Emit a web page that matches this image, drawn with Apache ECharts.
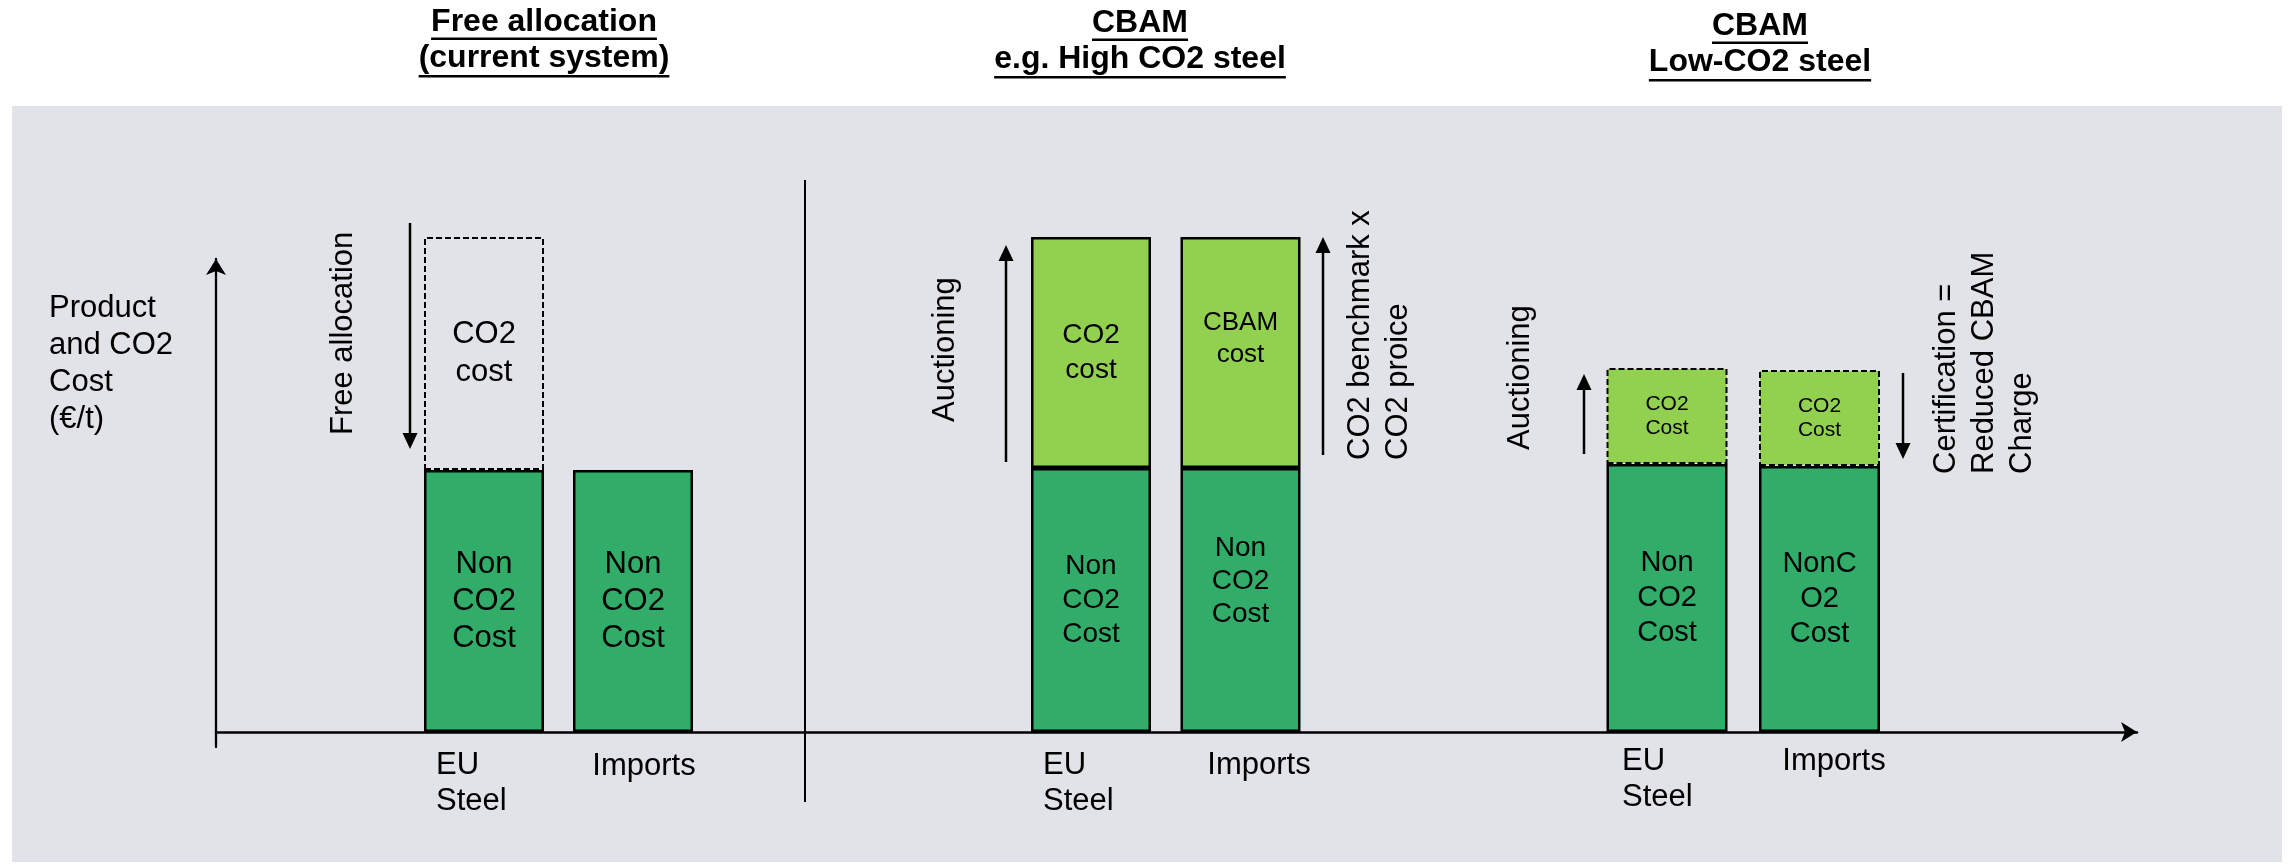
<!DOCTYPE html>
<html>
<head>
<meta charset="utf-8">
<script src="https://cdn.jsdelivr.net/npm/echarts@6/dist/echarts.min.js"></script>
<style>
  html, body { margin: 0; padding: 0; background: #ffffff; }
  #chart { width: 2288px; height: 864px; }
</style>
</head>
<body>
<div id="chart"></div>
<script>
// ---- Content -------------------------------------------------------------
const panelTitles = [
  ['Free allocation', '(current system)'],
  ['CBAM', 'e.g. High CO2 steel'],
  ['CBAM', 'Low-CO2 steel']
];
const categories = ['EU\nSteel', 'Imports'];
const yAxisTitle = 'Product\nand CO2\nCost\n(€/t)';

// Cost per tonne (arbitrary units), stacked: non-CO2 part below, CO2 part on top
const freeAllocNonCo2 = [52.4, 52.4];
const freeAllocCo2    = [46.6, null];
const highCo2NonCo2   = [52.8, 52.8];
const highCo2Co2      = [46.2, 46.2];
const lowCo2NonCo2    = [53.6, 53.2];
const lowCo2Co2       = [19.2, 19.2];

// Text written inside each stacked segment
const nonCo2Labels = [
  ['Non\nCO2\nCost', 'Non\nCO2\nCost'],
  ['Non\nCO2\nCost', 'Non\nCO2\nCost'],
  ['Non\nCO2\nCost', 'NonC\nO2\nCost']
];
const co2Labels = [
  ['CO2\ncost', null],
  ['CO2\ncost', 'CBAM\ncost'],
  ['CO2\nCost', 'CO2\nCost']
];

// Vertical arrows beside the bars: which bar, value span [from, to], caption
const arrowBars  = [[0], [0, 1], [0, 1]];
const arrowSpans = [
  [[101.8, 56.6]],
  [[54.0, 97.4], [55.4, 99.0]],
  [[55.6, 71.6], [71.8, 54.6]]
];
const arrowTexts = [
  ['Free allocation'],
  ['Auctioning', 'CO2 benchmark x\nCO2 proice'],
  ['Auctioning', 'Certification =\nReduced CBAM\nCharge']
];

// ---- Layout & style ------------------------------------------------------
const FONT = '"Liberation Sans", Arial, Helvetica, sans-serif';
const DARK = '#31ad69';
const LIGHT = '#92d050';
const PANEL_BG = '#e2e3e8';
const AXIS_Y = 732;
const GRID_TOP = 232;

const panelLayout = [
  {
    left: 409.5, width: 298, barWidth: 120, titleX: 544, titleDy: 0, labelMargin: 15,
    catPad: [[0, 21, 0, 0], [3, 0, 0, 22]],
    nonCo2Text: [{ fontSize: 31, lineHeight: 37 }, { fontSize: 31, lineHeight: 37 }],
    co2Text: [{ fontSize: 31, lineHeight: 38 }, null],
    co2Item: [{ color: 'rgba(0,0,0,0)', borderType: [6, 3], borderWidth: 2 }, null],
    arrows: [{ dx: -74, tx: -141, tdy: -14 }]
  },
  {
    left: 1016.25, width: 299, barWidth: 120, titleX: 1140, titleDy: 1, labelMargin: 15,
    catPad: [[0, 21, 0, 0], [0, 0, 0, 37]],
    nonCo2Text: [{ fontSize: 28, lineHeight: 34 }, { fontSize: 28, lineHeight: 33, offset: [0, -19] }],
    co2Text: [{ fontSize: 28, lineHeight: 35 }, { fontSize: 26, lineHeight: 32, offset: [0, -14] }],
    co2Item: [{ color: LIGHT }, { color: LIGHT }],
    arrows: [{ dx: -85, tx: -146, tdy: -40 }, { dx: 82.5, tx: 138.5, tdy: 5 }]
  },
  {
    left: 1590.75, width: 305, barWidth: 121, titleX: 1760, titleDy: 4, labelMargin: 11,
    catPad: [[0, 15, 0, 0], [0, 0, 0, 29]],
    nonCo2Text: [{ fontSize: 29, lineHeight: 35 }, { fontSize: 29, lineHeight: 35 }],
    co2Text: [{ fontSize: 21, lineHeight: 24 }, { fontSize: 21, lineHeight: 24 }],
    co2Item: [{ color: LIGHT, borderType: [6, 3], borderWidth: 2 }, { color: LIGHT, borderType: [6, 3], borderWidth: 2 }],
    arrows: [{ dx: -83, tx: -147, tdy: -4 }, { dx: 83.5, tx: 164.5, tdy: 15 }]
  }
];

const nonCo2Series = [freeAllocNonCo2, highCo2NonCo2, lowCo2NonCo2];
const co2Series = [freeAllocCo2, highCo2Co2, lowCo2Co2];

// ---- Build option --------------------------------------------------------
const grids = [];
const xAxes = [];
const yAxes = [];
const series = [];

// Frame grid: carries the two arrowed axes across the whole diagram
grids.push({ left: 216, right: 151, top: 259, bottom: 864 - 747, outerBoundsMode: 'none' });
xAxes.push({
  gridIndex: 0, type: 'value', min: 0, max: 1,
  axisLine: { show: true, onZero: true, symbol: ['none', 'arrow'], symbolSize: [15, 16],
    lineStyle: { color: '#000', width: 2.5 } },
  axisTick: { show: false }, axisLabel: { show: false }, splitLine: { show: false }
});
yAxes.push({
  gridIndex: 0, type: 'value', min: -15, max: 473,
  axisLine: { show: true, onZero: true, symbol: ['none', 'arrow'], symbolSize: [15, 16],
    lineStyle: { color: '#000', width: 2.3 } },
  axisTick: { show: false }, axisLabel: { show: false }, splitLine: { show: false }
});

panelLayout.forEach((L, i) => {
  const ax = i + 1;
  grids.push({ left: L.left, width: L.width, top: GRID_TOP, bottom: 864 - AXIS_Y, outerBoundsMode: 'none' });
  const rich = {
    c0: { fontFamily: FONT, fontSize: 31, lineHeight: 36, color: '#000', width: 75, align: 'left', padding: L.catPad[0] },
    c1: { fontFamily: FONT, fontSize: 31, lineHeight: 36, color: '#000', align: 'left', padding: L.catPad[1] }
  };
  xAxes.push({
    gridIndex: ax, type: 'category', data: categories,
    axisLine: { show: false }, axisTick: { show: false }, splitLine: { show: false },
    axisLabel: {
      show: true, interval: 0, margin: L.labelMargin,
      formatter: (v, idx) => '{c' + idx + '|' + v + '}',
      rich: rich
    }
  });
  yAxes.push({
    gridIndex: ax, type: 'value', min: 0, max: 100, show: false,
    splitLine: { show: false }
  });

  series.push({
    type: 'bar', name: 'Non-CO2 cost', xAxisIndex: ax, yAxisIndex: ax,
    stack: 'cost' + i, barWidth: L.barWidth,
    itemStyle: { color: DARK, borderColor: '#000', borderWidth: 2.5 },
    label: { show: true, position: 'inside', color: '#000', fontFamily: FONT },
    emphasis: { disabled: true },
    data: nonCo2Series[i].map((v, j) => ({
      value: v,
      label: Object.assign({ formatter: nonCo2Labels[i][j] }, L.nonCo2Text[j])
    }))
  });

  series.push({
    type: 'bar', name: 'CO2 cost', xAxisIndex: ax, yAxisIndex: ax,
    stack: 'cost' + i, barWidth: L.barWidth,
    itemStyle: { color: LIGHT, borderColor: '#000', borderWidth: 2.5 },
    label: { show: true, position: 'inside', color: '#000', fontFamily: FONT },
    emphasis: { disabled: true },
    data: co2Series[i].map((v, j) => v == null ? '-' : ({
      value: v,
      itemStyle: Object.assign({ borderColor: '#000' }, L.co2Item[j]),
      label: Object.assign({ formatter: co2Labels[i][j] }, L.co2Text[j])
    }))
  });

  // Arrows with rotated captions, positioned from the bar they accompany
  series.push({
    type: 'custom', name: 'arrows', xAxisIndex: ax, yAxisIndex: ax, z: 5, silent: true,
    data: arrowBars[i].map((c, k) => [c, arrowSpans[i][k][0], arrowSpans[i][k][1]]),
    renderItem: (params, api) => {
      const k = params.dataIndex;
      const A = L.arrows[k];
      const cat = api.value(0);
      const cx = api.coord([cat, 0])[0];
      const x = cx + A.dx;
      const y1 = api.coord([cat, api.value(1)])[1];
      const y2 = api.coord([cat, api.value(2)])[1];
      const dir = y2 > y1 ? 1 : -1;
      const head = 16, hw = 7.5;
      const lowEnd = Math.max(y1, y2);
      return {
        type: 'group',
        children: [
          { type: 'line', shape: { x1: x, y1: y1, x2: x, y2: y2 - dir * head },
            style: { stroke: '#000', lineWidth: 2.5 } },
          { type: 'polygon', shape: { points: [[x, y2], [x - hw, y2 - dir * head], [x + hw, y2 - dir * head]] },
            style: { fill: '#000' } },
          { type: 'text', x: cx + A.tx, y: lowEnd + A.tdy, rotation: Math.PI / 2,
            style: { text: arrowTexts[i][k], font: '31px ' + FONT, fill: '#000',
              align: 'left', verticalAlign: 'middle', textAlign: 'left', textVerticalAlign: 'middle',
              lineHeight: 38 } }
        ]
      };
    }
  });
});

// ---- Decorations: panel background, headings, axis caption, divider -----
const measureCtx = document.createElement('canvas').getContext('2d');
function textWidth(t, font) { measureCtx.font = font; return measureCtx.measureText(t).width; }

const graphics = [
  { type: 'rect', z: -10, silent: true, shape: { x: 12, y: 106, width: 2270, height: 756 },
    style: { fill: PANEL_BG } },
  { type: 'line', silent: true, shape: { x1: 805, y1: 180, x2: 805, y2: 802 },
    style: { stroke: '#000', lineWidth: 2 } },
  { type: 'text', silent: true, x: 49, y: 290,
    style: { text: yAxisTitle, font: '31px ' + FONT, fill: '#000', lineHeight: 37,
      textAlign: 'left', textVerticalAlign: 'top', align: 'left', verticalAlign: 'top' } }
];

const titleFont = 'bold 32px ' + FONT;
const titleCenters = [22, 58];
const underlineY = [37.5, 75];
panelTitles.forEach((lines, i) => {
  const L = panelLayout[i];
  lines.forEach((t, k) => {
    const w = textWidth(t, titleFont);
    graphics.push({
      type: 'text', silent: true, x: L.titleX, y: titleCenters[k] + L.titleDy,
      style: { text: t, font: titleFont, fill: '#000',
        textAlign: 'center', textVerticalAlign: 'middle', align: 'center', verticalAlign: 'middle' }
    });
    graphics.push({
      type: 'rect', silent: true,
      shape: { x: L.titleX - w / 2, y: underlineY[k] + L.titleDy, width: w, height: 2.6 },
      style: { fill: '#000' }
    });
  });
});

const chart = echarts.init(document.getElementById('chart'), null, { renderer: 'canvas' });
chart.setOption({
  backgroundColor: '#ffffff',
  animation: false,
  textStyle: { fontFamily: FONT },
  grid: grids,
  xAxis: xAxes,
  yAxis: yAxes,
  series: series,
  graphic: { elements: graphics }
});
</script>
</body>
</html>
